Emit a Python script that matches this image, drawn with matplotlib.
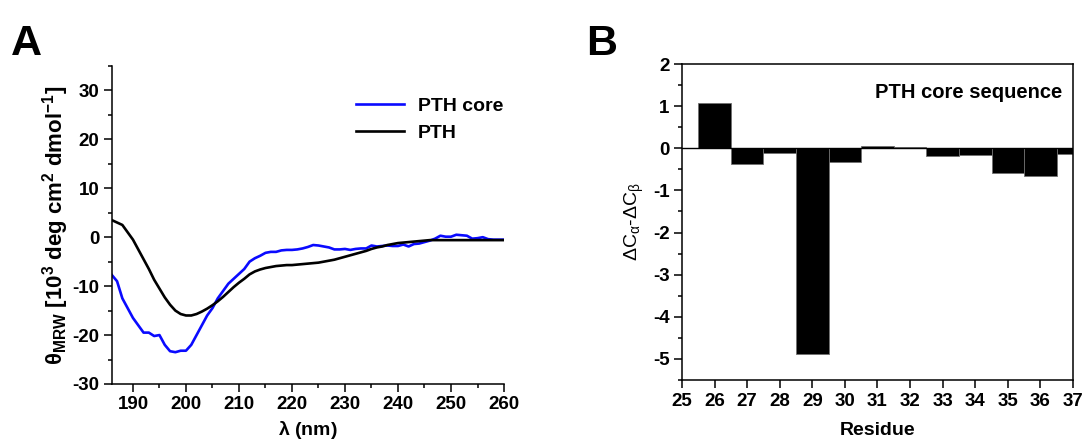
import matplotlib
matplotlib.use("Agg")
import matplotlib.pyplot as plt
from matplotlib.ticker import MultipleLocator

plt.rcParams['font.family'] = ['Liberation Sans', 'DejaVu Sans']
plt.rcParams['font.weight'] = 'bold'
plt.rcParams['axes.unicode_minus'] = False
plt.rcParams['mathtext.fontset'] = 'custom'
plt.rcParams['mathtext.rm'] = 'Liberation Sans:weight=normal'
plt.rcParams['mathtext.it'] = 'Liberation Sans:weight=normal'
plt.rcParams['mathtext.bf'] = 'Liberation Sans:weight=bold'

# ---- Panel A data: CD spectra ----
wavelength = list(range(186, 261))
pth_core = [-7.7, -9.0, -12.5, -14.5, -16.5, -18.0, -19.5, -19.5, -20.2, -20.0,
            -22.0, -23.3, -23.5, -23.2, -23.2, -22.0, -20.0, -18.0, -16.0, -14.5,
            -12.5, -11.0, -9.5, -8.5, -7.5, -6.5, -5.0, -4.3, -3.8, -3.2,
            -3.0, -3.0, -2.7, -2.6, -2.6, -2.5, -2.3, -2.0, -1.6, -1.7,
            -1.9, -2.1, -2.5, -2.5, -2.4, -2.6, -2.4, -2.3, -2.3, -1.7,
            -1.9, -1.8, -1.7, -1.8, -1.8, -1.5, -1.9, -1.4, -1.3, -1.0,
            -0.7, -0.3, 0.3, 0.1, 0.1, 0.5, 0.4, 0.3, -0.3, -0.2,
            0.0, -0.4, -0.5, -0.5, -0.5]
pth = [3.5, 3.0, 2.5, 1.0, -0.5, -2.5, -4.5, -6.5, -8.7, -10.5,
       -12.3, -13.8, -15.0, -15.7, -16.0, -16.0, -15.7, -15.2, -14.6, -13.9,
       -13.1, -12.2, -11.2, -10.2, -9.3, -8.5, -7.6, -7.0, -6.6, -6.3,
       -6.1, -5.9, -5.8, -5.7, -5.7, -5.6, -5.5, -5.4, -5.3, -5.2,
       -5.0, -4.8, -4.6, -4.3, -4.0, -3.7, -3.4, -3.1, -2.8, -2.4,
       -2.1, -1.9, -1.6, -1.4, -1.2, -1.1, -1.0, -0.9, -0.8, -0.7,
       -0.6, -0.6, -0.6, -0.6, -0.6, -0.6, -0.6, -0.6, -0.6, -0.6,
       -0.6, -0.6, -0.6, -0.6, -0.6]
series_labels = ["PTH core", "PTH"]

# ---- Panel B data: secondary chemical shifts ----
residues = [26, 27, 28, 29, 30, 31, 32, 33, 34, 35, 36, 37]
delta_shift = [1.07, -0.38, -0.12, -4.88, -0.33, 0.06, 0.02, -0.19, -0.16, -0.59, -0.66, -0.14]
residue_ticks = list(range(25, 38))

fig = plt.figure(figsize=(10.86, 4.43), dpi=100)

# ---------- Panel A ----------
axA = fig.add_axes([0.1029, 0.1332, 0.3612, 0.718])
axA.plot(wavelength, pth_core, color='#0a0aff', lw=1.9, label=series_labels[0])
axA.plot(wavelength, pth, color='black', lw=1.9, label=series_labels[1])
axA.set_xlim(186, 260)
axA.set_ylim(-30, 35)
axA.set_yticks([-30, -20, -10, 0, 10, 20, 30])
axA.set_xticks([190, 200, 210, 220, 230, 240, 250, 260])
axA.xaxis.set_minor_locator(MultipleLocator(5))
axA.yaxis.set_minor_locator(MultipleLocator(5))
for s in ['top', 'right']:
    axA.spines[s].set_visible(False)
for s in ['left', 'bottom']:
    axA.spines[s].set_linewidth(1.1)
axA.tick_params(which='major', direction='out', length=6, width=1.1, labelsize=13.5, pad=3)
axA.tick_params(which='minor', direction='out', length=3, width=1.1)
axA.set_xlabel(r'$\mathbf{\lambda}$ (nm)', fontsize=14, fontweight='bold', labelpad=4)
axA.set_ylabel(r'$\mathbf{\theta_{MRW}\ [10^{3}\ deg\ cm^{2}\ dmol^{-1}]}$', fontsize=16, labelpad=1)
axA.legend(loc='upper left', bbox_to_anchor=(0.622, 0.902), frameon=False,
           borderaxespad=0, borderpad=0, handlelength=2.5, handletextpad=0.7,
           labelspacing=0.49, prop={'size': 14, 'weight': 'bold'})

# ---------- Panel B ----------
axB = fig.add_axes([0.628, 0.1422, 0.360, 0.7133])
axB.bar(residues, delta_shift, width=1.0, color='black', edgecolor='#707070', linewidth=0.6)
axB.axhline(0, color='black', lw=1.0)
axB.set_xlim(25, 37)
axB.set_ylim(-5.5, 2)
axB.set_xticks(residue_ticks)
axB.yaxis.set_major_locator(MultipleLocator(1))
axB.yaxis.set_minor_locator(MultipleLocator(0.5))
for s in axB.spines.values():
    s.set_linewidth(1.1)
axB.tick_params(which='major', direction='out', length=6, width=1.1, labelsize=13.5, pad=3)
axB.tick_params(which='minor', direction='out', length=3, width=1.1)
axB.set_xlabel('Residue', fontsize=14, fontweight='bold', labelpad=9)
axB.set_ylabel(r'$\Delta \mathrm{C}_{\alpha}$-$\Delta \mathrm{C}_{\beta}$', fontsize=14,
               fontweight='normal', labelpad=5)
axB.text(0.972, 0.911, 'PTH core sequence', transform=axB.transAxes, ha='right', va='center',
         fontsize=14.5, fontweight='bold')

# Panel letters
fig.text(0.010, 0.875, 'A', fontsize=31, fontweight='bold', ha='left', va='baseline')
fig.text(0.540, 0.875, 'B', fontsize=31, fontweight='bold', ha='left', va='baseline')

fig.savefig('out.png', dpi=100)
